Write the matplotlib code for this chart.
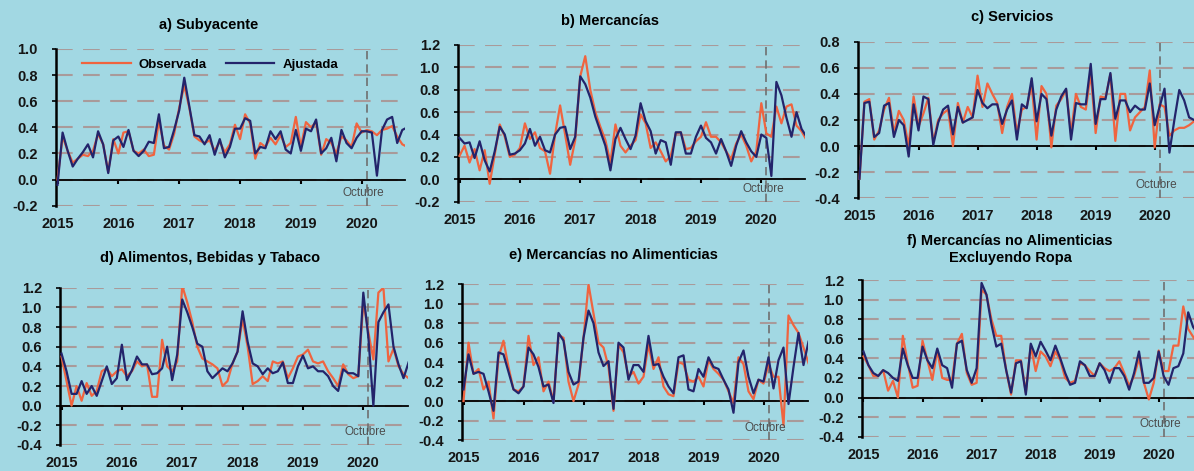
import numpy as np
import matplotlib.pyplot as plt

plt.rcParams["font.family"] = ["Liberation Sans", "DejaVu Sans"]

## DATOS: variacion mensual, enero 2015 - octubre 2020

meses = np.arange(70)
anios = ["2015", "2016", "2017", "2018", "2019", "2020"]
pos_anios = [0, 12, 24, 36, 48, 60]
mes_feb_2020 = 61

# a) Subyacente
sub_obs = [0.00, 0.33, 0.22, 0.13, 0.16, 0.19, 0.18, 0.22, 0.35, 0.27, 0.06, 0.31,
           0.20, 0.36, 0.37, 0.22, 0.20, 0.23, 0.18, 0.19, 0.45, 0.26, 0.23, 0.35,
           0.55, 0.72, 0.55, 0.33, 0.30, 0.28, 0.30, 0.22, 0.29, 0.21, 0.27, 0.42,
           0.31, 0.50, 0.43, 0.16, 0.28, 0.25, 0.32, 0.27, 0.34, 0.25, 0.28, 0.48,
           0.25, 0.44, 0.40, 0.44, 0.19, 0.31, 0.28, 0.20, 0.33, 0.30, 0.25, 0.43,
           0.36, 0.38, 0.37, 0.34, 0.38, 0.39, 0.41, 0.33, 0.27, 0.25]
sub_aju = [-0.04, 0.36, 0.22, 0.10, 0.16, 0.21, 0.27, 0.17, 0.37, 0.27, 0.05, 0.30,
           0.33, 0.25, 0.38, 0.22, 0.18, 0.22, 0.29, 0.28, 0.50, 0.24, 0.25, 0.38,
           0.53, 0.78, 0.56, 0.34, 0.33, 0.27, 0.34, 0.19, 0.31, 0.17, 0.25, 0.39,
           0.39, 0.47, 0.45, 0.20, 0.25, 0.24, 0.37, 0.31, 0.37, 0.23, 0.20, 0.38,
           0.22, 0.39, 0.37, 0.46, 0.20, 0.24, 0.32, 0.14, 0.38, 0.28, 0.24, 0.32,
           0.37, 0.37, 0.36, 0.03, 0.38, 0.46, 0.48, 0.28, 0.38, 0.40]

# b) Mercancias
mer_obs = [0.21, 0.30, 0.15, 0.27, 0.08, 0.26, -0.04, 0.22, 0.49, 0.38, 0.20, 0.22,
           0.28, 0.50, 0.36, 0.42, 0.28, 0.25, 0.05, 0.40, 0.66, 0.40, 0.13, 0.35,
           0.92, 1.10, 0.80, 0.60, 0.47, 0.35, 0.15, 0.49, 0.30, 0.24, 0.30, 0.35,
           0.58, 0.50, 0.28, 0.33, 0.25, 0.16, 0.21, 0.41, 0.42, 0.27, 0.28, 0.34,
           0.38, 0.51, 0.38, 0.38, 0.33, 0.25, 0.18, 0.32, 0.40, 0.30, 0.16, 0.25,
           0.68, 0.41, 0.38, 0.65, 0.50, 0.65, 0.67, 0.48, 0.43, 0.35]
mer_aju = [0.37, 0.32, 0.33, 0.19, 0.34, 0.17, 0.07, 0.25, 0.47, 0.40, 0.22, 0.23,
           0.26, 0.32, 0.45, 0.30, 0.38, 0.26, 0.24, 0.40, 0.46, 0.47, 0.27, 0.38,
           0.92, 0.85, 0.73, 0.56, 0.43, 0.30, 0.08, 0.36, 0.46, 0.36, 0.27, 0.39,
           0.68, 0.52, 0.43, 0.23, 0.35, 0.33, 0.13, 0.42, 0.42, 0.23, 0.23, 0.38,
           0.48, 0.37, 0.33, 0.23, 0.36, 0.25, 0.12, 0.30, 0.43, 0.33, 0.25, 0.20,
           0.40, 0.37, 0.03, 0.87, 0.75, 0.55, 0.38, 0.60, 0.45, 0.38]

# c) Servicios
ser_obs = [-0.25, 0.34, 0.36, 0.05, 0.12, 0.28, 0.37, 0.10, 0.27, 0.20, 0.00, 0.38,
           0.15, 0.25, 0.37, 0.03, 0.20, 0.25, 0.28, 0.00, 0.33, 0.18, 0.30, 0.22,
           0.54, 0.30, 0.48, 0.40, 0.33, 0.10, 0.30, 0.40, 0.10, 0.28, 0.30, 0.47,
           0.05, 0.46, 0.40, -0.01, 0.31, 0.36, 0.43, 0.10, 0.40, 0.30, 0.28, 0.56,
           0.10, 0.38, 0.37, 0.55, 0.04, 0.40, 0.40, 0.12, 0.22, 0.26, 0.30, 0.58,
           -0.01, 0.32, 0.30, 0.08, 0.12, 0.14, 0.14, 0.16, 0.19, 0.22]
ser_aju = [-0.25, 0.33, 0.34, 0.07, 0.10, 0.31, 0.33, 0.07, 0.20, 0.16, -0.08, 0.32,
           0.12, 0.38, 0.36, 0.01, 0.18, 0.28, 0.31, 0.09, 0.30, 0.18, 0.20, 0.22,
           0.43, 0.33, 0.29, 0.32, 0.32, 0.17, 0.28, 0.35, 0.05, 0.32, 0.29, 0.52,
           0.19, 0.40, 0.36, 0.08, 0.28, 0.38, 0.44, 0.05, 0.33, 0.32, 0.32, 0.63,
           0.17, 0.36, 0.36, 0.56, 0.21, 0.35, 0.35, 0.26, 0.31, 0.28, 0.28, 0.48,
           0.16, 0.30, 0.44, -0.05, 0.20, 0.43, 0.35, 0.22, 0.20, 0.20]

# d) Alimentos, Bebidas y Tabaco
ali_obs = [0.50, 0.25, 0.00, 0.20, 0.05, 0.23, 0.10, 0.15, 0.35, 0.38, 0.30, 0.35,
           0.37, 0.30, 0.35, 0.45, 0.40, 0.42, 0.09, 0.09, 0.67, 0.40, 0.35, 0.45,
           1.22, 1.05, 0.85, 0.60, 0.48, 0.45, 0.42, 0.38, 0.20, 0.25, 0.43, 0.55,
           0.88, 0.60, 0.22, 0.25, 0.30, 0.25, 0.45, 0.43, 0.45, 0.28, 0.38, 0.50,
           0.52, 0.57, 0.45, 0.43, 0.45, 0.35, 0.28, 0.20, 0.42, 0.32, 0.28, 0.30,
           1.05, 0.75, 0.47, 1.15, 1.20, 0.45, 0.58, 0.40, 0.32, 0.28]
ali_aju = [0.53, 0.35, 0.12, 0.12, 0.25, 0.12, 0.20, 0.10, 0.25, 0.40, 0.22, 0.28,
           0.62, 0.26, 0.36, 0.50, 0.42, 0.42, 0.32, 0.33, 0.38, 0.60, 0.26, 0.52,
           1.08, 0.95, 0.80, 0.63, 0.60, 0.35, 0.28, 0.33, 0.38, 0.35, 0.43, 0.55,
           0.96, 0.65, 0.43, 0.40, 0.32, 0.38, 0.33, 0.35, 0.44, 0.23, 0.23, 0.40,
           0.51, 0.38, 0.40, 0.35, 0.35, 0.30, 0.20, 0.15, 0.37, 0.33, 0.33, 0.30,
           1.15, 0.70, 0.00, 0.85, 0.95, 1.03, 0.60, 0.42, 0.28, 0.44]

# e) Mercancias no Alimenticias
nal_obs = [0.00, 0.60, 0.28, 0.33, 0.12, 0.20, -0.18, 0.45, 0.62, 0.35, 0.12, 0.10,
           0.15, 0.67, 0.37, 0.45, 0.10, 0.20, 0.00, 0.68, 0.65, 0.20, 0.00, 0.17,
           0.65, 1.20, 0.90, 0.60, 0.55, 0.35, -0.10, 0.58, 0.50, 0.25, 0.30, 0.18,
           0.25, 0.58, 0.33, 0.45, 0.15, 0.07, 0.05, 0.40, 0.38, 0.22, 0.20, 0.25,
           0.15, 0.42, 0.33, 0.28, 0.22, 0.10, -0.02, 0.45, 0.38, 0.10, 0.02, 0.22,
           0.18, 0.38, 0.25, 0.25, -0.25, 0.88, 0.78, 0.70, 0.55, 0.39]
nal_aju = [0.12, 0.48, 0.28, 0.30, 0.28, 0.10, -0.10, 0.50, 0.48, 0.30, 0.12, 0.08,
           0.15, 0.55, 0.48, 0.35, 0.15, 0.17, -0.02, 0.70, 0.62, 0.30, 0.17, 0.20,
           0.65, 0.93, 0.80, 0.50, 0.36, 0.41, -0.08, 0.60, 0.55, 0.22, 0.37, 0.37,
           0.30, 0.67, 0.37, 0.38, 0.25, 0.15, 0.08, 0.45, 0.47, 0.12, 0.10, 0.33,
           0.25, 0.45, 0.35, 0.33, 0.22, 0.12, -0.12, 0.40, 0.52, 0.25, 0.08, 0.22,
           0.20, 0.45, 0.13, 0.42, 0.55, -0.03, 0.35, 0.70, 0.37, 0.61]

# f) Mercancias no Alimenticias Excluyendo Ropa
sro_obs = [0.42, 0.33, 0.22, 0.22, 0.28, 0.07, 0.17, 0.00, 0.63, 0.35, 0.10, 0.12,
           0.58, 0.38, 0.18, 0.48, 0.20, 0.18, 0.18, 0.55, 0.65, 0.25, 0.13, 0.15,
           1.10, 1.05, 0.80, 0.63, 0.63, 0.28, 0.03, 0.38, 0.38, 0.05, 0.53, 0.27,
           0.47, 0.42, 0.32, 0.47, 0.38, 0.20, 0.15, 0.17, 0.35, 0.33, 0.27, 0.22,
           0.35, 0.30, 0.27, 0.30, 0.37, 0.25, 0.12, 0.22, 0.40, 0.15, -0.02, 0.15,
           0.48, 0.27, 0.27, 0.53, 0.53, 0.93, 0.70, 0.62, 0.55, 0.50]
sro_aju = [0.47, 0.33, 0.25, 0.22, 0.28, 0.25, 0.20, 0.17, 0.50, 0.33, 0.20, 0.20,
           0.52, 0.38, 0.30, 0.50, 0.33, 0.30, 0.10, 0.55, 0.58, 0.28, 0.15, 0.30,
           1.17, 1.05, 0.75, 0.52, 0.55, 0.28, 0.05, 0.35, 0.37, 0.03, 0.55, 0.42,
           0.57, 0.48, 0.38, 0.53, 0.40, 0.25, 0.13, 0.15, 0.37, 0.33, 0.22, 0.22,
           0.35, 0.28, 0.15, 0.30, 0.30, 0.22, 0.08, 0.25, 0.47, 0.15, 0.15, 0.20,
           0.47, 0.22, 0.13, 0.30, 0.32, 0.45, 0.87, 0.72, 0.65, 0.60]

## ESTILO

fondo = "#a2d8e3"
naranja = "#f0643f"
azul = "#23246b"
gris_grid = "#a99a9a"

W, H = 1194, 471
fig = plt.figure(figsize=(W / 100, H / 100), dpi=100)
fig.patch.set_facecolor(fondo)


def panel(izq, der, arr, aba, ymin, ymax, ppm, obs, aju, titulo, tx, ty, y_oct):
    # izq/der/arr/aba en pixeles de la figura
    ax = fig.add_axes([izq / W, 1 - aba / H, (der - izq) / W, (aba - arr) / H])
    ax.patch.set_alpha(0)
    ax.plot(meses, obs, color=naranja, lw=1.6, label="Observada", zorder=3)
    ax.plot(meses, aju, color=azul, lw=1.6, label="Ajustada", zorder=4)
    ax.set_xlim(-0.3, -0.3 + (der - izq) / ppm)
    ax.set_ylim(ymin, ymax)

    yt = np.round(np.arange(ymin, ymax + 0.01, 0.2), 1)
    ax.set_yticks(yt)
    ax.set_yticklabels(["%.1f" % (v + 0.0) for v in yt])
    ax.set_axisbelow(True)
    ax.grid(axis="y", color=gris_grid, lw=1.5, ls=(0, (8, 5)))

    for s in ["top", "right"]:
        ax.spines[s].set_visible(False)
    ax.spines["left"].set_linewidth(1.8)
    ax.spines["bottom"].set_position(("data", 0))
    ax.spines["bottom"].set_linewidth(1.3)

    # etiquetas de los años abajo del todo
    alto = aba - arr
    y0 = arr + ymax / (ymax - ymin) * alto
    pad_px = aba + 11 - y0 - 4
    ax.set_xticks(pos_anios)
    ax.set_xticklabels(anios)
    ax.tick_params(axis="x", direction="out", length=3, width=1.5,
                   pad=pad_px * 0.72, labelsize=10.5)
    ax.tick_params(axis="y", length=3, width=1.2, pad=10, labelsize=10.5)
    for t in ax.get_xticklabels() + ax.get_yticklabels():
        t.set_fontweight("bold")
        t.set_color("#151515")

    ax.axvline(mes_feb_2020, color="#6f6f6f", lw=1.2, ls=(0, (5, 3)), zorder=2)
    ax.text(mes_feb_2020 - 0.7, y_oct, "Octubre", ha="center", va="center",
            fontsize=8.5, color="#4d4d4d")

    fig.text(tx / W, 1 - ty / H, titulo, ha="center", va="center",
             fontsize=10.5, fontweight="bold", linespacing=1.2)
    return ax


ax_a = panel(56, 405, 49, 205.7, -0.2, 1.0, 5.07, sub_obs, sub_aju,
             "a) Subyacente", 209, 25, -0.1)
panel(458, 805, 45, 201.7, -0.2, 1.2, 5.03, mer_obs, mer_aju,
      "b) Mercancías", 610, 21, -0.09)
panel(858, 1194, 41.7, 198.3, -0.4, 0.8, 4.92, ser_obs, ser_aju,
      "c) Servicios", 1012, 17, -0.3)
panel(60, 408, 287.7, 445, -0.4, 1.2, 5.03, ali_obs, ali_aju,
      "d) Alimentos, Bebidas y Tabaco", 210, 258, -0.27)
panel(462, 808, 284.3, 440, -0.4, 1.2, 5.0, nal_obs, nal_aju,
      "e) Mercancías no Alimenticias", 613, 255, -0.28)
panel(862, 1194, 280, 436.7, -0.4, 1.2, 4.92, sro_obs, sro_aju,
      "f) Mercancías no Alimenticias\nExcluyendo Ropa", 1010, 249.5, -0.27)

ax_a.legend(loc="center left", bbox_to_anchor=(0.075, 0.898), ncol=2,
            frameon=False, borderpad=0, borderaxespad=0, handlelength=3.7,
            handletextpad=0.6, columnspacing=1.4,
            prop={"size": 9.5, "weight": "bold"})

# nota al pie, cortada por el borde de la imagen (como en el original)
fig.text(1100 / W, 1 - 478 / H,
         "Datos a octubre de 2020. La línea vertical corresponde a febrero de 2020",
         ha="right", va="center", fontsize=10, fontweight="bold", color="#151515")

fig.savefig("out.png", dpi=100, facecolor=fondo)
